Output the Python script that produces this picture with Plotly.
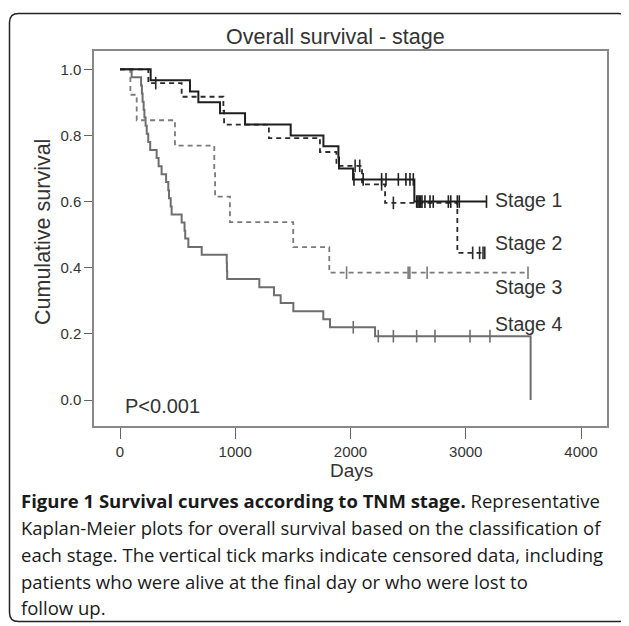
import plotly.graph_objects as go

# ---------------- data ----------------
stage1_event_days = [266, 607, 680, 868, 1085, 1481, 1765, 1895, 1900, 2022, 2554]
stage1_event_surv = [0.967, 0.933, 0.900, 0.867, 0.833, 0.800, 0.767, 0.733, 0.700, 0.667, 0.600]
stage1_censor_days = [2030, 2110, 2270, 2308, 2415, 2481, 2516, 2545, 2574, 2585, 2596, 2608,
                      2620, 2646, 2690, 2718, 2849, 2870, 2927, 2944, 3180]
stage1_end = 3180

stage2_event_days = [246, 535, 897, 903, 1292, 1735, 1878, 2100, 2300, 2927]
stage2_event_surv = [0.958, 0.917, 0.875, 0.833, 0.792, 0.750, 0.708, 0.652, 0.596, 0.445]
stage2_censor_days = [310, 2040, 2080, 2270, 2372, 3060, 3120, 3150, 3165]
stage2_end = 3165

stage3_event_days = [90, 145, 477, 818, 825, 954, 1503, 1816]
stage3_event_surv = [0.923, 0.846, 0.769, 0.692, 0.615, 0.538, 0.462, 0.385]
stage3_censor_days = [1966, 2500, 2515, 2665, 3540]
stage3_end = 3540

stage4_event_days = [101, 183, 190, 196, 205, 212, 222, 232, 245, 262, 318, 335, 361, 400,
                     419, 425, 440, 448, 535, 560, 566, 593, 709, 926, 928, 930, 1209, 1336,
                     1394, 1504, 1764, 1822, 2213, 3563]
stage4_event_surv = [0.976, 0.951, 0.927, 0.902, 0.878, 0.854, 0.829, 0.805, 0.780, 0.756,
                     0.732, 0.707, 0.683, 0.659, 0.634, 0.610, 0.585, 0.561, 0.537, 0.512,
                     0.488, 0.463, 0.439, 0.415, 0.390, 0.366, 0.341, 0.317, 0.293, 0.268,
                     0.244, 0.220, 0.193, 0.0]
stage4_censor_days = [2024, 2241, 2372, 2574, 2733, 3037, 3210]
stage4_end = 3563

stage_names = ["Stage 1", "Stage 2", "Stage 3", "Stage 4"]
x_tick_vals = [0, 1000, 2000, 3000, 4000]
y_tick_vals = [0.0, 0.2, 0.4, 0.6, 0.8, 1.0]

title_text = "Overall survival - stage"
x_title = "Days"
y_title = "Cumulative survival"
p_text = "P<0.001"
caption_lines = [
    "<b>Figure 1 Survival curves according to TNM stage.</b> Representative",
    "Kaplan-Meier plots for overall survival based on the classification of",
    "each stage. The vertical tick marks indicate censored data, including",
    "patients who were alive at the final day or who were lost to",
    "follow up.",
]

# ---------------- helpers ----------------
def step_xy(days, surv, end):
    xs = [0] + list(days)
    ys = [1.0] + list(surv)
    if end > xs[-1]:
        xs.append(end)
        ys.append(ys[-1])
    return xs, ys

def surv_at(days, surv, t):
    s = 1.0
    for d, v in zip(days, surv):
        if d <= t:
            s = v
    return s

# ---------------- layout geometry (window pixels) ----------------
OFF = 8                      # page body margin of the html page
W, H = 629 - OFF, 626 - OFF  # figure size
L, R, T, B = 94, 607, 51, 426   # plot frame in window pixels

def px(xpix):
    return (xpix - L) / (R - L)

def py(ypix):
    return (B - ypix) / (B - T)

FONT = "Liberation Sans, Arial, sans-serif"

series = [
    (stage4_event_days, stage4_event_surv, stage4_censor_days, stage4_end, "#6e6e6e", "solid", 2.0),
    (stage3_event_days, stage3_event_surv, stage3_censor_days, stage3_end, "#7a7a7a", "5px,4px", 1.8),
    (stage2_event_days, stage2_event_surv, stage2_censor_days, stage2_end, "#2a2a2a", "5px,4px", 1.8),
    (stage1_event_days, stage1_event_surv, stage1_censor_days, stage1_end, "#1e1e1e", "solid", 2.0),
]
names = ["Stage 4", "Stage 3", "Stage 2", "Stage 1"]

fig = go.Figure()
for (d, s, c, e, col, dash, w), nm in zip(series, names):
    xs, ys = step_xy(d, s, e)
    fig.add_trace(go.Scatter(x=xs, y=ys, mode="lines", line=dict(color=col, dash=dash, width=w, shape="hv"),
                             name=nm, showlegend=False, hoverinfo="skip"))
    fig.add_trace(go.Scatter(x=c, y=[surv_at(d, s, t) for t in c], mode="markers",
                             marker=dict(symbol="line-ns", size=9, line=dict(color=col, width=1.6)),
                             showlegend=False, hoverinfo="skip"))

# stage labels (data coords)
label_y = [0.605, 0.476, 0.342, 0.230]
for nm, yv in zip(stage_names, label_y):
    fig.add_annotation(x=3240, y=yv, xref="x", yref="y", text=nm, showarrow=False,
                       xanchor="left", yanchor="middle", font=dict(family=FONT, size=19.5, color="#333"))

fig.add_annotation(x=26, y=-0.018, xref="x", yref="y", text=p_text, showarrow=False,
                   xanchor="left", yanchor="middle", font=dict(family=FONT, size=20, color="#333"))

# titles as annotations placed in pixels
fig.add_annotation(x=px(335), y=py(37), xref="paper", yref="paper", text=title_text, showarrow=False,
                   xanchor="center", yanchor="middle", font=dict(family=FONT, size=21.5, color="#333"))
fig.add_annotation(x=px(351), y=py(470), xref="paper", yref="paper", text=x_title, showarrow=False,
                   xanchor="center", yanchor="middle", font=dict(family=FONT, size=19, color="#333"))
fig.add_annotation(x=px(43), y=py(232), xref="paper", yref="paper", text=y_title, showarrow=False,
                   textangle=-90, xanchor="center", yanchor="middle", font=dict(family=FONT, size=21.5, color="#333"))

caption_y = [500, 527, 554, 581, 607]
for line, yy in zip(caption_lines, caption_y):
    fig.add_annotation(x=px(19), y=py(yy), xref="paper", yref="paper", text=line, showarrow=False,
                       xanchor="left", yanchor="middle", font=dict(family="Open Sans, sans-serif", size=18.5, color="#1a1a1a"))

# outer rounded border
x0, x1, y0, y1, r = 9.5, 627.5, 13.5, 621.5, 9
def P(a, b):
    return f"{px(a):.5f},{py(b):.5f}"
path = (f"M {P(x0+r, y0)} L {P(x1-r, y0)} Q {P(x1, y0)} {P(x1, y0+r)} L {P(x1, y1-r)} "
        f"Q {P(x1, y1)} {P(x1-r, y1)} L {P(x0+r, y1)} Q {P(x0, y1)} {P(x0, y1-r)} "
        f"L {P(x0, y0+r)} Q {P(x0, y0)} {P(x0+r, y0)} Z")
fig.add_shape(type="path", path=path, xref="paper", yref="paper", line=dict(color="#222", width=1.5))

x_range = [(L - 120) / 0.11525, (R - 120) / 0.11525]
y_range = [(400 - B) / 330.7, (400 - T) / 330.7]

fig.update_layout(
    width=W, height=H,
    margin=dict(l=L - OFF, r=629 - R, t=T - OFF, b=626 - B),
    paper_bgcolor="white", plot_bgcolor="white",
    xaxis=dict(range=x_range, tickvals=x_tick_vals, ticks="outside", ticklen=11, tickwidth=1.3,
               tickcolor="#666", showline=True, linecolor="#888", linewidth=1.5, mirror=True,
               showgrid=False, zeroline=False, tickfont=dict(family=FONT, size=15, color="#333")),
    yaxis=dict(range=y_range, tickvals=y_tick_vals, tickformat=".1f", ticks="outside", ticklen=8,
               tickwidth=1.3, tickcolor="#666", showline=True, linecolor="#888", linewidth=1.5,
               mirror=True, showgrid=False, zeroline=False, tickfont=dict(family=FONT, size=15, color="#333")),
)

fig.write_html("out.html")
